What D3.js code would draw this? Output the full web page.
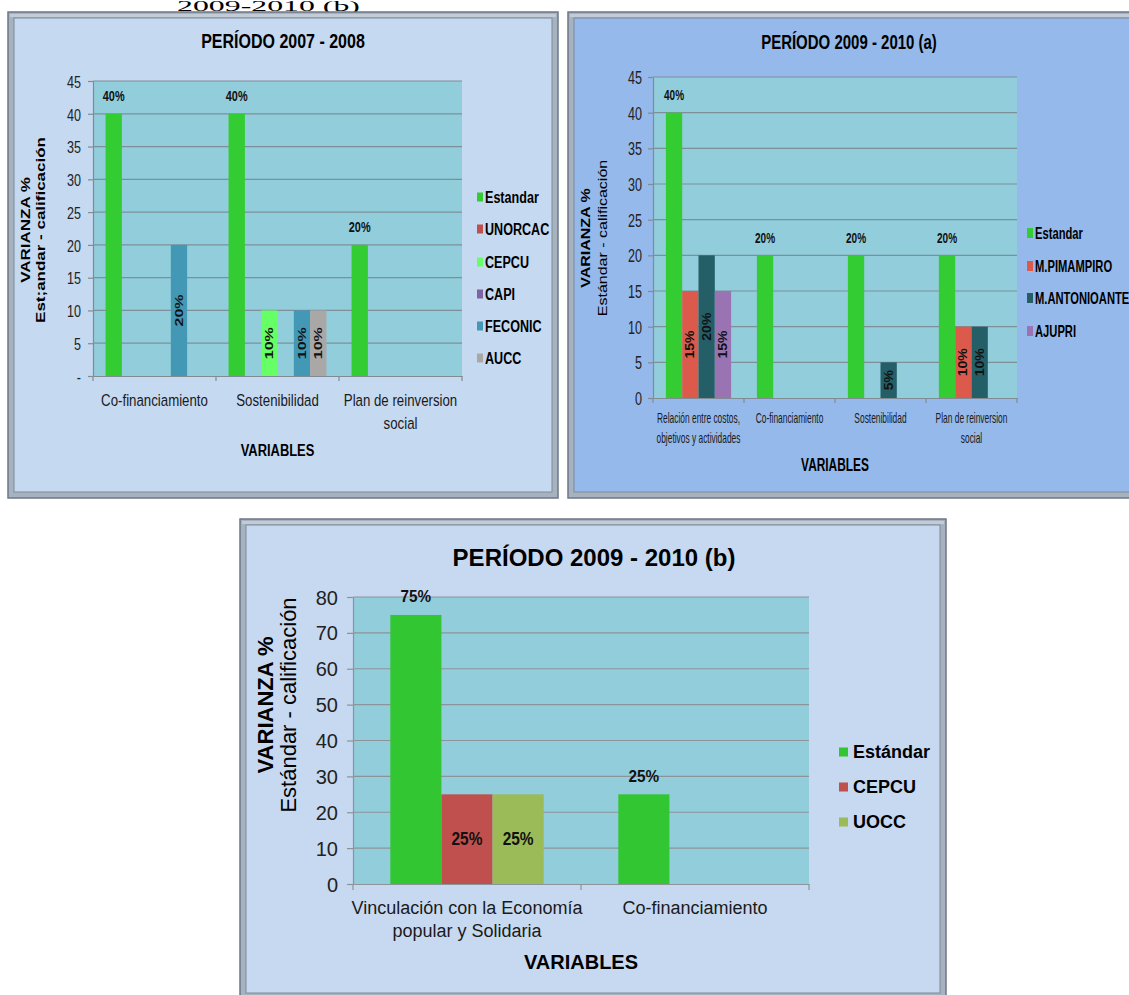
<!DOCTYPE html>
<html>
<head>
<meta charset="utf-8">
<script src="https://cdn.jsdelivr.net/npm/d3@7"></script>
<style>
  html, body { margin: 0; padding: 0; background: #fff; }
  svg { display: block; }
</style>
</head>
<body>
<svg id="chart" width="1129" height="995"></svg>
<script>
// ---------------- DATA ----------------
// Chart 1: PERÍODO 2007 - 2008
const c1Categories = ["Co-financiamiento", "Sostenibilidad", "Plan de reinversion\nsocial"];
const c1Series = ["Estandar", "UNORCAC", "CEPCU", "CAPI", "FECONIC", "AUCC"];
const c1Estandar = [40, 40, 20];
const c1Unorcac  = [0, 0, 0];
const c1Cepcu    = [0, 10, 0];
const c1Capi     = [0, 0, 0];
const c1Feconic  = [20, 10, 0];
const c1Aucc     = [0, 10, 0];
const c1Ticks = [0, 5, 10, 15, 20, 25, 30, 35, 40, 45];
const c1TickLabels = ["-", "5", "10", "15", "20", "25", "30", "35", "40", "45"];

// Chart 2: PERÍODO 2009 - 2010 (a)
const c2Categories = ["Relación entre costos,\nobjetivos  y actividades", "Co-financiamiento", "Sostenibilidad", "Plan de reinversion\nsocial"];
const c2Series = ["Estandar", "M.PIMAMPIRO", "M.ANTONIOANTE", "AJUPRI"];
const c2Estandar     = [40, 20, 20, 20];
const c2Pimampiro    = [15, 0, 0, 10];
const c2AntonioAnte  = [20, 0, 5, 10];
const c2Ajupri       = [15, 0, 0, 0];
const c2Ticks = [0, 5, 10, 15, 20, 25, 30, 35, 40, 45];
const c2TickLabels = ["0", "5", "10", "15", "20", "25", "30", "35", "40", "45"];

// Chart 3: PERÍODO 2009 - 2010 (b)
const c3Categories = ["Vinculación con la Economía\npopular y Solidaria", "Co-financiamiento"];
const c3Series = ["Estándar", "CEPCU", "UOCC"];
const c3Estandar = [75, 25];
const c3Cepcu    = [25, 0];
const c3Uocc     = [25, 0];
const c3Ticks = [0, 10, 20, 30, 40, 50, 60, 70, 80];
const c3TickLabels = ["0", "10", "20", "30", "40", "50", "60", "70", "80"];

// ---------------- DRAWING ----------------
const FONT = "'Liberation Sans', Arial, Helvetica, sans-serif";
const svg = d3.select("#chart");

function T(g, x, y, s, o = {}) {
  const rot = o.rot || 0, sx = o.sx || 1, sy = o.sy || 1;
  return g.append("text")
    .attr("transform", `translate(${x},${y}) rotate(${rot}) scale(${sx},${sy})`)
    .attr("text-anchor", o.anchor || "middle")
    .attr("dominant-baseline", "central")
    .attr("font-family", o.family || FONT)
    .attr("font-size", o.size || 14)
    .attr("font-weight", o.bold ? "bold" : "normal")
    .attr("fill", o.fill || "#111")
    .text(s);
}

function panel(x, y, w, h, fill) {
  const g = svg.append("g");
  g.append("rect").attr("x", x).attr("y", y).attr("width", w).attr("height", h)
    .attr("fill", "#a7b2bf").attr("stroke", "#6b7786").attr("stroke-width", 1.5);
  g.append("rect").attr("x", x + 2).attr("y", y + 2).attr("width", w - 4).attr("height", 3)
    .attr("fill", "#c3ccd6");
  g.append("rect").attr("x", x + 6).attr("y", y + 6).attr("width", w - 12).attr("height", h - 12)
    .attr("fill", fill).attr("stroke", "#7e8a99").attr("stroke-width", 1);
}

function chart(o) {
  const g = svg.append("g");
  const x0 = d3.scaleBand().domain(o.cats).range([o.left, o.right]);
  const x1 = d3.scaleBand().domain(o.series).range([0, x0.bandwidth()]).paddingOuter(o.pad);
  const yMax = o.ticks[o.ticks.length - 1];
  const y = d3.scaleLinear().domain([0, yMax]).range([o.bottom, o.top]);

  // plot area
  g.append("rect").attr("x", o.left).attr("y", y(yMax))
    .attr("width", o.right - o.left).attr("height", y(0) - y(yMax))
    .attr("fill", "#92cddc");
  // gridlines
  g.selectAll(".grid").data(o.ticks.filter(t => t > 0)).join("line")
    .attr("x1", o.left).attr("x2", o.right)
    .attr("y1", d => y(d)).attr("y2", d => y(d))
    .attr("stroke", o.grid).attr("stroke-width", 1.2);

  // bars
  o.series.forEach((s, i) => {
    const data = o.values[i].map((v, j) => ({ v, c: o.cats[j] })).filter(d => d.v > 0);
    g.selectAll(null).data(data).join("rect")
      .attr("x", d => x0(d.c) + x1(s))
      .attr("width", x1.bandwidth())
      .attr("y", d => y(d.v))
      .attr("height", d => y(0) - y(d.v))
      .attr("fill", o.colors[i]);
  });

  // y axis
  const ya = g.append("g").attr("transform", `translate(${o.left},0)`)
    .call(d3.axisLeft(y).tickValues(o.ticks).tickSize(o.tickLen).tickSizeOuter(0)
      .tickFormat((d, i) => o.tickLabels[i]));
  ya.select(".domain").attr("stroke", o.axis).attr("stroke-width", 1.2);
  ya.selectAll(".tick line").attr("stroke", o.axis).attr("stroke-width", 1.2);
  ya.selectAll(".tick text")
    .attr("x", null).attr("dy", null)
    .attr("transform", `translate(${-o.labelGap},0) scale(${o.tickSx},1)`)
    .attr("dominant-baseline", "central")
    .attr("text-anchor", "end")
    .attr("font-family", FONT).attr("font-size", o.tickSize)
    .attr("fill", "#222");
  ya.attr("font-family", null).attr("font-size", null);

  // x axis
  const xa = g.append("g").attr("transform", `translate(0,${y(0)})`)
    .call(d3.axisBottom(x0).tickSize(0).tickSizeOuter(0).tickFormat(""));
  xa.select(".domain").attr("stroke", o.axis).attr("stroke-width", 1.2);
  const bounds = o.cats.map(c => x0(c)).concat([o.right]);
  g.selectAll(".xt").data(bounds).join("line")
    .attr("x1", d => d).attr("x2", d => d)
    .attr("y1", y(0)).attr("y2", y(0) + o.tickLen)
    .attr("stroke", o.axis).attr("stroke-width", 1.2);

  // category labels
  o.cats.forEach(c => {
    c.split("\n").forEach((line, k) => {
      T(g, x0(c) + x0.bandwidth() / 2, o.catY + k * o.catLine, line,
        { size: o.catSize, sx: o.catSx, fill: "#1a1a1a" });
    });
  });

  // data labels
  o.series.forEach((s, i) => {
    o.values[i].forEach((v, j) => {
      if (v <= 0) return;
      const cx = x0(o.cats[j]) + x1(s) + x1.bandwidth() / 2;
      const lbl = v + "%";
      if (i === 0) {
        T(g, cx, y(v) - o.aboveOff, lbl, { size: o.aboveSize, bold: true, sx: o.aboveSx, fill: "#111" });
      } else if (o.insideRot) {
        T(g, cx, (y(v) + y(0)) / 2, lbl, { size: o.inSize, bold: true, rot: -90, sy: o.inSy, fill: "#111" });
      } else {
        T(g, cx, (y(v) + y(0)) / 2, lbl, { size: o.inSize, bold: true, sx: o.inSx, fill: "#111" });
      }
    });
  });

  // title
  T(g, o.titleX, o.titleY, o.title, { size: o.titleSize, bold: true, sx: o.titleSx, fill: "#000" });
  // x title
  T(g, (o.left + o.right) / 2, o.xTitleY, "VARIABLES", { size: o.xTitleSize, bold: true, sx: o.xTitleSx, fill: "#000" });
  // y titles
  T(g, o.yt1X, o.ytY, "VARIANZA  %", { size: o.yt1Size, bold: true, rot: -90, sy: o.ytSy, fill: "#000" });
  T(g, o.yt2X, o.ytY, o.yt2Text, { size: o.yt2Size, bold: o.yt2Bold, rot: -90, sy: o.ytSy, fill: "#000" });

  // legend
  o.series.forEach((s, i) => {
    const ly = o.legY[i];
    g.append("rect").attr("x", o.legX).attr("y", ly - o.keyH / 2)
      .attr("width", o.keyW).attr("height", o.keyH).attr("fill", o.colors[i]);
    T(g, o.legX + o.legTextDx, ly, s, { size: o.legSize, bold: true, sx: o.legSx, anchor: "start", fill: "#000" });
  });
}

// caption at the top of the page (only its lower part shows in the reference)
svg.append("text").attr("x", 177).attr("y", 11)
  .attr("font-family", "'Liberation Serif', 'Times New Roman', serif")
  .attr("font-size", 14).attr("fill", "#000")
  .attr("textLength", 183).attr("lengthAdjust", "spacingAndGlyphs")
  .text("2009-2010 (b)");

// Panels
panel(8, 12, 550, 486, "#c5d9f1");
panel(568, 12, 600, 486, "#95b9eb");
panel(240, 519, 706, 480, "#c6d9f1");

// Chart 1
chart({
  cats: c1Categories, series: c1Series,
  values: [c1Estandar, c1Unorcac, c1Cepcu, c1Capi, c1Feconic, c1Aucc],
  colors: ["#33cc33", "#c0504d", "#66ff66", "#8064a2", "#4298b5", "#aaa7a7"],
  left: 93, right: 462, top: 81, bottom: 376, pad: 0.77,
  ticks: c1Ticks, tickLabels: c1TickLabels,
  grid: "#7d9099", axis: "#808b93", tickLen: 5, labelGap: 12, tickSx: 0.74, tickSize: 17,
  catY: 400, catLine: 23, catSize: 17, catSx: 0.78,
  aboveOff: 17, aboveSize: 14, aboveSx: 0.78,
  insideRot: true, inSize: 16, inSy: 0.72,
  title: "PERÍODO 2007 - 2008", titleX: 283, titleY: 41, titleSize: 20, titleSx: 0.8,
  xTitleY: 450, xTitleSize: 17, xTitleSx: 0.76,
  yt1X: 25, yt2X: 40, ytY: 230, yt1Size: 17, yt2Size: 17, yt2Bold: true, ytSy: 0.8,
  yt2Text: "Est;andar - calificación",
  legX: 477, legY: [197, 229, 262, 294, 326, 358], keyW: 6, keyH: 9, legTextDx: 8,
  legSize: 17, legSx: 0.74
});

// Chart 2
chart({
  cats: c2Categories, series: c2Series,
  values: [c2Estandar, c2Pimampiro, c2AntonioAnte, c2Ajupri],
  colors: ["#33cc33", "#db5a4c", "#245f67", "#9a74b2"],
  left: 653, right: 1017, top: 77, bottom: 398, pad: 0.79,
  ticks: c2Ticks, tickLabels: c2TickLabels,
  grid: "#7d9099", axis: "#808b93", tickLen: 5, labelGap: 11, tickSx: 0.7, tickSize: 18,
  catY: 418, catLine: 20, catSize: 14, catSx: 0.6,
  aboveOff: 18, aboveSize: 15, aboveSx: 0.67,
  insideRot: true, inSize: 14, inSy: 0.85,
  title: "PERÍODO 2009 - 2010 (a)", titleX: 849, titleY: 42, titleSize: 20, titleSx: 0.75,
  xTitleY: 465, xTitleSize: 18, xTitleSx: 0.66,
  yt1X: 586, yt2X: 603, ytY: 238, yt1Size: 16, yt2Size: 16, yt2Bold: false, ytSy: 0.8,
  yt2Text: "Estándar - calificación",
  legX: 1027, legY: [233, 266, 298, 331], keyW: 6, keyH: 10, legTextDx: 8,
  legSize: 16, legSx: 0.7
});

// Chart 3
chart({
  cats: c3Categories, series: c3Series,
  values: [c3Estandar, c3Cepcu, c3Uocc],
  colors: ["#33c633", "#c0504d", "#9bbb59"],
  left: 353, right: 809, top: 597, bottom: 884, pad: 0.73,
  ticks: c3Ticks, tickLabels: c3TickLabels,
  grid: "#8b9499", axis: "#8b9499", tickLen: 6, labelGap: 15, tickSx: 1, tickSize: 20,
  catY: 908, catLine: 23, catSize: 18, catSx: 1,
  aboveOff: 19, aboveSize: 17, aboveSx: 0.9,
  insideRot: false, inSize: 18, inSx: 0.86,
  title: "PERÍODO 2009 - 2010 (b)", titleX: 594, titleY: 557, titleSize: 24, titleSx: 1,
  xTitleY: 962, xTitleSize: 20, xTitleSx: 1,
  yt1X: 265, yt2X: 288, ytY: 705, yt1Size: 22, yt2Size: 22, yt2Bold: false, ytSy: 1,
  yt2Text: "Estándar - calificación",
  legX: 839, legY: [752, 787, 822], keyW: 9, keyH: 9, legTextDx: 14,
  legSize: 18, legSx: 1
});
</script>
</body>
</html>
